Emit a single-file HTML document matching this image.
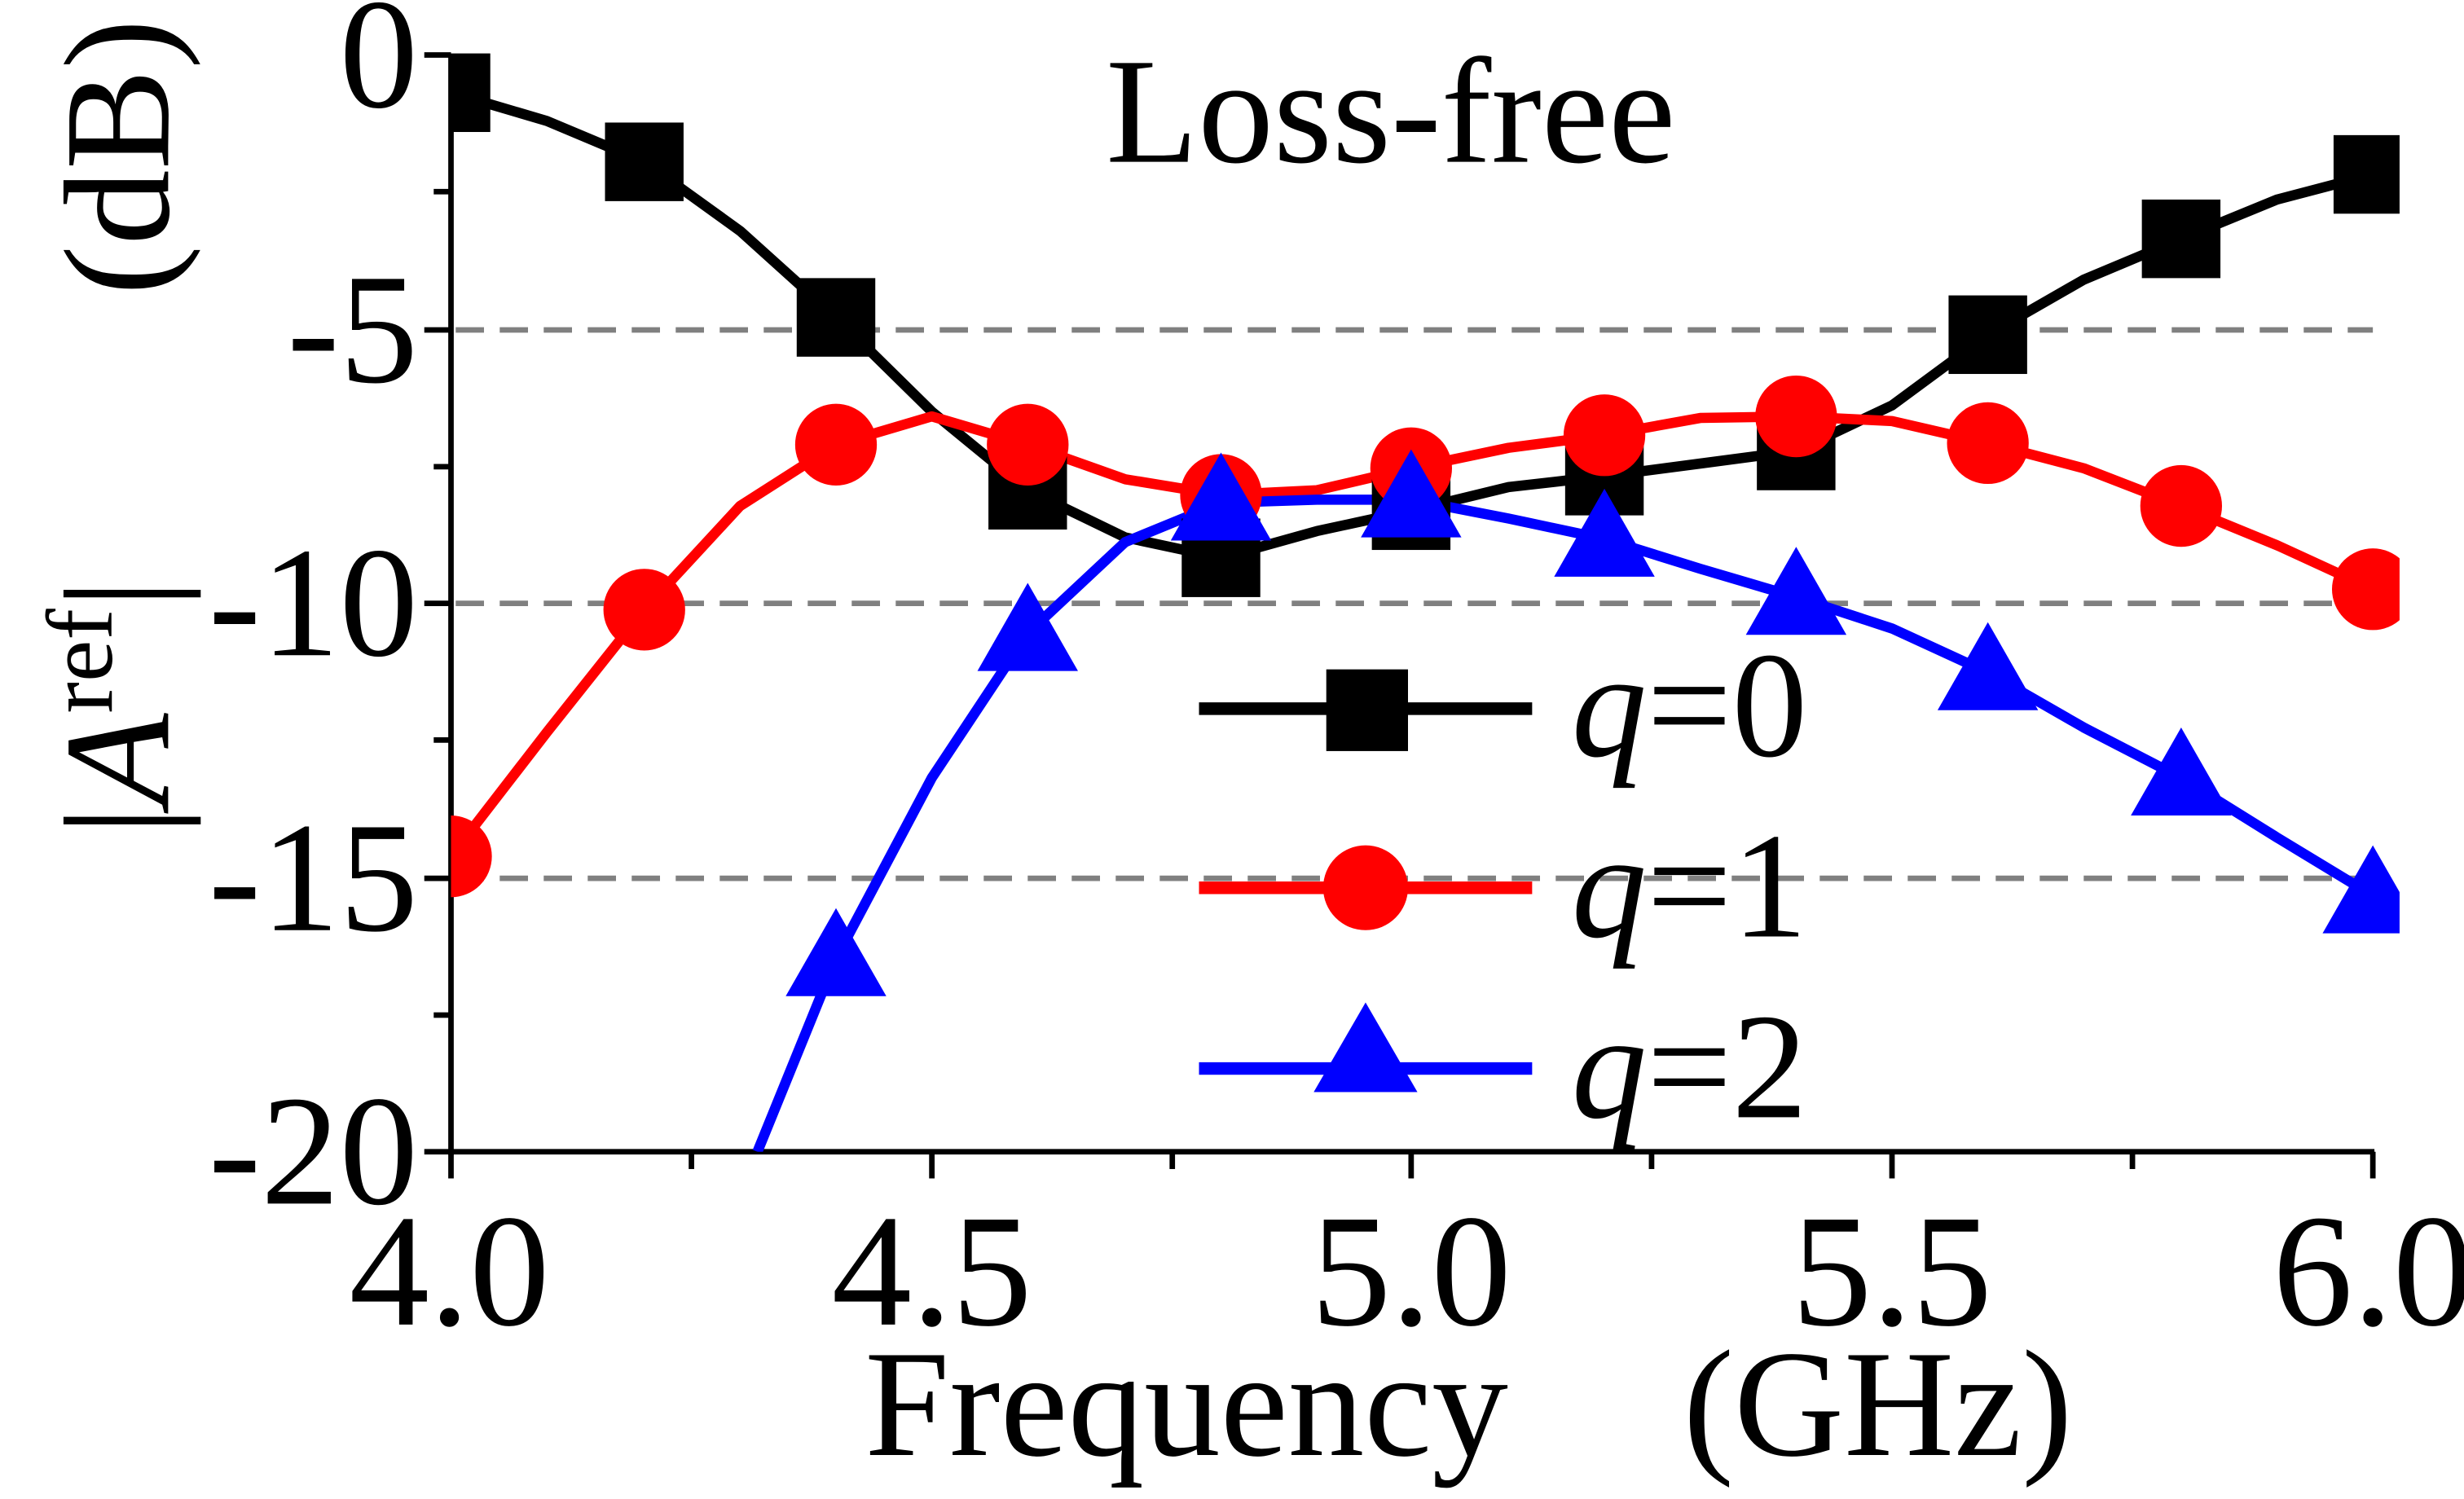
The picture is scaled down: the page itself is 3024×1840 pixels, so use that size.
<!DOCTYPE html>
<html><head><meta charset="utf-8"><style>
html,body{margin:0;padding:0;background:#fff;}
svg{display:block;}
text{font-family:"Liberation Serif",serif;fill:#000;}
</style></head><body>
<svg width="3024" height="1840" viewBox="0 0 1568 954" preserveAspectRatio="none" xmlns="http://www.w3.org/2000/svg">
<defs><clipPath id="c"><rect x="287" y="0" width="1240" height="733"/></clipPath></defs>
<g stroke="#808080" stroke-width="3.5" stroke-dasharray="18,10">
<line x1="290" y1="210" x2="1510" y2="210"/>
<line x1="290" y1="384" x2="1510" y2="384"/>
<line x1="290" y1="559" x2="1510" y2="559"/>
</g>
<g stroke="#000" stroke-width="3.5">
<line x1="287" y1="35" x2="287" y2="735"/>
<line x1="286" y1="733" x2="1511" y2="733"/>
<line x1="287" y1="35" x2="270" y2="35"/>
<line x1="287" y1="210" x2="270" y2="210"/>
<line x1="287" y1="384" x2="270" y2="384"/>
<line x1="287" y1="559" x2="270" y2="559"/>
<line x1="287" y1="733" x2="270" y2="733"/>
<line x1="287" y1="122" x2="276" y2="122"/>
<line x1="287" y1="297" x2="276" y2="297"/>
<line x1="287" y1="471" x2="276" y2="471"/>
<line x1="287" y1="646" x2="276" y2="646"/>
<line x1="287" y1="733" x2="287" y2="750"/>
<line x1="593" y1="733" x2="593" y2="750"/>
<line x1="898" y1="733" x2="898" y2="750"/>
<line x1="1204" y1="733" x2="1204" y2="750"/>
<line x1="1510" y1="733" x2="1510" y2="750"/>
<line x1="440" y1="733" x2="440" y2="744"/>
<line x1="746" y1="733" x2="746" y2="744"/>
<line x1="1051" y1="733" x2="1051" y2="744"/>
<line x1="1357" y1="733" x2="1357" y2="744"/>
</g>
<g font-size="100" text-anchor="end">
<text x="266" y="68">0</text>
<text x="266" y="243">-5</text>
<text x="266" y="417">-10</text>
<text x="266" y="592">-15</text>
<text x="266" y="766">-20</text>
</g>
<g font-size="102" text-anchor="middle">
<text x="286" y="843">4.0</text>
<text x="593" y="843">4.5</text>
<text x="898" y="843">5.0</text>
<text x="1204" y="843">5.5</text>
<text x="1510" y="843">6.0</text>
</g>
<text x="755" y="926" font-size="97" text-anchor="middle">Frequency</text>
<text x="1195" y="926" font-size="97" text-anchor="middle">(GHz)</text>
<text x="885" y="103" font-size="96" text-anchor="middle">Loss-free</text>
<text transform="translate(107,100) rotate(-90)" font-size="96" text-anchor="middle">(dB)</text>
<text transform="translate(107,450) rotate(-90)" font-size="96" text-anchor="middle">|<tspan font-style="italic">A</tspan><tspan font-size="60" dy="-36">ref</tspan><tspan dy="36">|</tspan></text>
<g clip-path="url(#c)" stroke-width="6.5" fill="none" stroke-linejoin="round">
<polyline stroke="#000" points="287,59 348,77 410,103 471,147 532,202 593,262 654,312 716,342 777,355 838,338 898,325 960,310 1021,303 1082,295 1143,287 1204,258 1265,213 1326,178 1388,152 1449,127 1510,111"/>
<polyline stroke="#ff0000" points="287,545 348,466 410,388 471,322 532,283 593,265 654,283 716,305 777,315 838,312 898,298 960,285 1021,277 1082,266 1143,265 1204,268 1265,282 1326,298 1388,322 1449,347 1510,375"/>
<polyline stroke="#0000ff" points="482,733 532,610 593,495 654,403 716,345 777,320 838,318 898,318 960,330 1021,343 1082,362 1143,380 1204,400 1265,428 1326,463 1388,495 1449,533 1510,570"/>
<g fill="#000" stroke="none">
<rect x="262" y="34" width="50" height="50"/><rect x="385" y="78" width="50" height="50"/><rect x="507" y="177" width="50" height="50"/><rect x="629" y="287" width="50" height="50"/><rect x="752" y="330" width="50" height="50"/><rect x="873" y="300" width="50" height="50"/><rect x="996" y="278" width="50" height="50"/><rect x="1118" y="262" width="50" height="50"/><rect x="1240" y="188" width="50" height="50"/><rect x="1363" y="127" width="50" height="50"/><rect x="1485" y="86" width="50" height="50"/>
</g>
<g fill="#ff0000" stroke="none">
<circle cx="287" cy="545" r="26"/><circle cx="410" cy="388" r="26"/><circle cx="532" cy="283" r="26"/><circle cx="654" cy="283" r="26"/><circle cx="777" cy="315" r="26"/><circle cx="898" cy="298" r="26"/><circle cx="1021" cy="277" r="26"/><circle cx="1143" cy="265" r="26"/><circle cx="1265" cy="282" r="26"/><circle cx="1388" cy="322" r="26"/><circle cx="1510" cy="375" r="26"/>
</g>
<g fill="#0000ff" stroke="none">
<polygon points="532,578 500,634 564,634"/><polygon points="654,371 622,427 686,427"/><polygon points="777,288 745,344 809,344"/><polygon points="898,286 866,342 930,342"/><polygon points="1021,311 989,367 1053,367"/><polygon points="1143,348 1111,404 1175,404"/><polygon points="1265,396 1233,452 1297,452"/><polygon points="1388,463 1356,519 1420,519"/><polygon points="1510,538 1478,594 1542,594"/>
</g>
</g>
<g stroke-width="8">
<line x1="763" y1="451" x2="975" y2="451" stroke="#000"/>
<line x1="763" y1="565" x2="975" y2="565" stroke="#ff0000"/>
<line x1="763" y1="680" x2="975" y2="680" stroke="#0000ff"/>
</g>
<rect x="844" y="426" width="52" height="52" fill="#000"/>
<circle cx="869" cy="565" r="27" fill="#ff0000"/>
<polygon points="869,638 836,695 902,695" fill="#0000ff"/>
<g font-size="96">
<text x="1000" y="481"><tspan font-style="italic">q</tspan>=0</text>
<text x="1000" y="596"><tspan font-style="italic">q</tspan>=1</text>
<text x="1000" y="711"><tspan font-style="italic">q</tspan>=2</text>
</g>
</svg>
</body></html>
